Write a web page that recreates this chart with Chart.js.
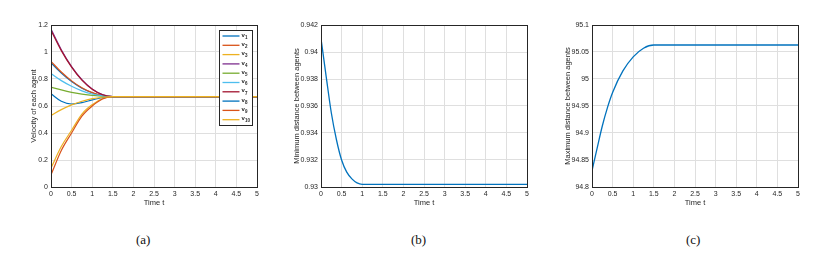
<!DOCTYPE html>
<html>
<head>
<meta charset="utf-8">
<script src="https://cdn.jsdelivr.net/npm/chart.js@4.4.1/dist/chart.umd.min.js"></script>
<style>
  body { margin: 0; background: #fff; width: 836px; height: 259px; position: relative; overflow: hidden; }
  canvas { position: absolute; top: 0; }
  .cap { position: absolute; top: 232px; font-family: "Liberation Serif", "DejaVu Serif", serif; font-size: 13px; color: #111; }
</style>
</head>
<body>
<canvas id="cA" width="270" height="215" style="left:0px"></canvas>
<canvas id="cB" width="260" height="215" style="left:280px"></canvas>
<canvas id="cC" width="260" height="215" style="left:555px"></canvas>
<div class="cap" style="left:136px">(a)</div>
<div class="cap" style="left:411px">(b)</div>
<div class="cap" style="left:686px">(c)</div>
<script>
// tiempo (eje x) y ticks compartidos
const xTicks = [0, 0.5, 1, 1.5, 2, 2.5, 3, 3.5, 4, 4.5, 5];
const xLabels = ["0", "0.5", "1", "1.5", "2", "2.5", "3", "3.5", "4", "4.5", "5"];

// (a) velocidades de cada agente
const tA = [0, 0.25, 0.5, 0.75, 1, 1.25, 1.5, 1.75, 2, 3, 4, 5];
const v1  = [0.92, 0.844, 0.781, 0.732, 0.698, 0.677, 0.670, 0.67, 0.67, 0.67, 0.67, 0.67];
const v2  = [0.93, 0.852, 0.786, 0.735, 0.699, 0.677, 0.670, 0.67, 0.67, 0.67, 0.67, 0.67];
const v3  = [0.14, 0.300, 0.420, 0.540, 0.610, 0.656, 0.670, 0.67, 0.67, 0.67, 0.67, 0.67];
const v4  = [1.17, 1.017, 0.892, 0.795, 0.726, 0.684, 0.670, 0.67, 0.67, 0.67, 0.67, 0.67];
const v5  = [0.74, 0.719, 0.701, 0.688, 0.678, 0.673, 0.670, 0.67, 0.67, 0.67, 0.67, 0.67];
const v6  = [0.84, 0.788, 0.746, 0.712, 0.689, 0.675, 0.670, 0.67, 0.67, 0.67, 0.67, 0.67];
const v7  = [1.16, 1.010, 0.888, 0.792, 0.724, 0.683, 0.670, 0.67, 0.67, 0.67, 0.67, 0.67];
const v8  = [0.69, 0.635, 0.615, 0.625, 0.645, 0.663, 0.670, 0.67, 0.67, 0.67, 0.67, 0.67];
const v9  = [0.09, 0.270, 0.400, 0.525, 0.600, 0.652, 0.670, 0.67, 0.67, 0.67, 0.67, 0.67];
const v10 = [0.53, 0.573, 0.608, 0.635, 0.654, 0.665, 0.670, 0.67, 0.67, 0.67, 0.67, 0.67];
const seriesA = [v1, v2, v3, v4, v5, v6, v7, v8, v9, v10];
const namesA = ["v1", "v2", "v3", "v4", "v5", "v6", "v7", "v8", "v9", "v10"];
const coloresA = ["#0072BD", "#D95319", "#EDB120", "#7E2F8E", "#77AC30", "#4DBEEE", "#A2142F", "#0072BD", "#D95319", "#EDB120"];
const yTicksA = [0, 0.2, 0.4, 0.6, 0.8, 1, 1.2];
const yLabelsA = ["0", "0.2", "0.4", "0.6", "0.8", "1", "1.2"];

// (b) distancia mínima
const tB = [0, 0.125, 0.25, 0.375, 0.5, 0.625, 0.75, 0.875, 1, 2, 3, 4, 5];
const minDist = [0.941, 0.9382, 0.9355, 0.9335, 0.932, 0.9311, 0.9306, 0.9303, 0.9302, 0.9302, 0.9302, 0.9302, 0.9302];
const yTicksB = [0.93, 0.932, 0.934, 0.936, 0.938, 0.94, 0.942];
const yLabelsB = ["0.93", "0.932", "0.934", "0.936", "0.938", "0.94", "0.942"];

// (c) distancia máxima
const tC = [0, 0.125, 0.25, 0.375, 0.5, 0.75, 1, 1.25, 1.5, 2, 3, 4, 5];
const maxDist = [94.83, 94.872, 94.913, 94.947, 94.975, 95.015, 95.041, 95.057, 95.063, 95.063, 95.063, 95.063, 95.063];
const yTicksC = [94.8, 94.85, 94.9, 94.95, 95, 95.05, 95.1];
const yLabelsC = ["94.8", "94.85", "94.9", "94.95", "95", "95.05", "95.1"];

const texto = "#262626";
const fuente = { family: "'Liberation Sans', Arial, sans-serif", size: 7 };
const fuenteTitulo = { family: "'Liberation Sans', Arial, sans-serif", size: 7.5 };

const pts = (xs, ys) => xs.map((x, i) => ({ x: x, y: ys[i] }));

// caja alrededor del área del gráfico (estilo MATLAB)
const caja = {
  id: "caja",
  afterDatasetsDraw(chart) {
    const { ctx, chartArea: a } = chart;
    ctx.save();
    ctx.strokeStyle = texto;
    ctx.lineWidth = 1;
    ctx.strokeRect(Math.round(a.left) + 0.5, Math.round(a.top) + 0.5,
      Math.round(a.right - a.left), Math.round(a.bottom - a.top));
    ctx.restore();
  }
};

// leyenda dentro del gráfico (a)
const leyenda = {
  id: "leyenda",
  afterDraw(chart) {
    const ctx = chart.ctx;
    const x0 = 219.5, y0 = 30.5, w = 33, rowH = 9.3;
    const ds = chart.data.datasets;
    ctx.save();
    ctx.fillStyle = "#fff";
    ctx.strokeStyle = texto;
    ctx.lineWidth = 1;
    ctx.fillRect(x0, y0, w, rowH * ds.length + 2);
    ctx.strokeRect(x0, y0, w, rowH * ds.length + 2);
    ds.forEach((d, i) => {
      const y = y0 + 5.5 + i * rowH;
      ctx.strokeStyle = d.borderColor;
      ctx.lineWidth = 1.3;
      ctx.beginPath();
      ctx.moveTo(x0 + 3, y);
      ctx.lineTo(x0 + 20, y);
      ctx.stroke();
      ctx.fillStyle = texto;
      ctx.textBaseline = "middle";
      ctx.font = "bold 6px 'Liberation Sans', Arial, sans-serif";
      ctx.fillText("v", x0 + 22, y - 1);
      ctx.font = "bold 4.5px 'Liberation Sans', Arial, sans-serif";
      ctx.fillText(d.label.slice(1), x0 + 25.5, y + 1.5);
    });
    ctx.restore();
  }
};

function escalas(yMin, yMax, yTicks, yLabels, yTitulo, anchoY, padTitulo) {
  return {
    x: {
      type: "linear", min: 0, max: 5,
      afterBuildTicks: s => { s.ticks = xTicks.map(v => ({ value: v })); },
      afterFit: s => { s.height = 28; },
      grid: { color: "#dfdfdf", drawTicks: false },
      border: { display: false },
      ticks: { color: texto, font: fuente, padding: 3, maxRotation: 0, autoSkip: false,
        callback: (v, i) => xLabels[i] },
      title: { display: true, text: "Time t", color: texto, font: fuenteTitulo, padding: { top: 0, bottom: 8 } }
    },
    y: {
      type: "linear", min: yMin, max: yMax,
      afterBuildTicks: s => { s.ticks = yTicks.map(v => ({ value: v })); },
      afterFit: s => { s.width = anchoY; },
      grid: { color: "#dfdfdf", drawTicks: false },
      border: { display: false },
      ticks: { color: texto, font: fuente, padding: 3, autoSkip: false,
        callback: (v, i) => yLabels[i] },
      title: { display: true, text: yTitulo, color: texto, font: fuenteTitulo, padding: { top: padTitulo, bottom: 0 } }
    }
  };
}

function opciones(sc, padDer) {
  return {
    responsive: false,
    animation: false,
    layout: { padding: { top: 25, right: padDer, bottom: 0, left: 0 } },
    plugins: { legend: { display: false }, tooltip: { enabled: false } },
    elements: { point: { radius: 0 }, line: { cubicInterpolationMode: "monotone" } },
    scales: sc
  };
}

new Chart(document.getElementById("cA"), {
  type: "line",
  data: {
    datasets: seriesA.map((s, i) => ({
      label: namesA[i], data: pts(tA, s),
      borderColor: coloresA[i], borderWidth: 1.2, fill: false,
      order: seriesA.length - i
    }))
  },
  options: opciones(escalas(0, 1.2, yTicksA, yLabelsA, "Velocity of each agent", 51, 29), 13),
  plugins: [caja, leyenda]
});

new Chart(document.getElementById("cB"), {
  type: "line",
  data: {
    datasets: [{ label: "min", data: pts(tB, minDist), borderColor: "#0072BD", borderWidth: 1.3, fill: false }]
  },
  options: opciones(escalas(0.93, 0.942, yTicksB, yLabelsB, "Minimum distance between agents", 41, 12), 13),
  plugins: [caja]
});

new Chart(document.getElementById("cC"), {
  type: "line",
  data: {
    datasets: [{ label: "max", data: pts(tC, maxDist), borderColor: "#0072BD", borderWidth: 1.3, fill: false }]
  },
  options: opciones(escalas(94.8, 95.1, yTicksC, yLabelsC, "Maximum distance between agents", 37, 8), 17),
  plugins: [caja]
});
</script>
</body>
</html>
